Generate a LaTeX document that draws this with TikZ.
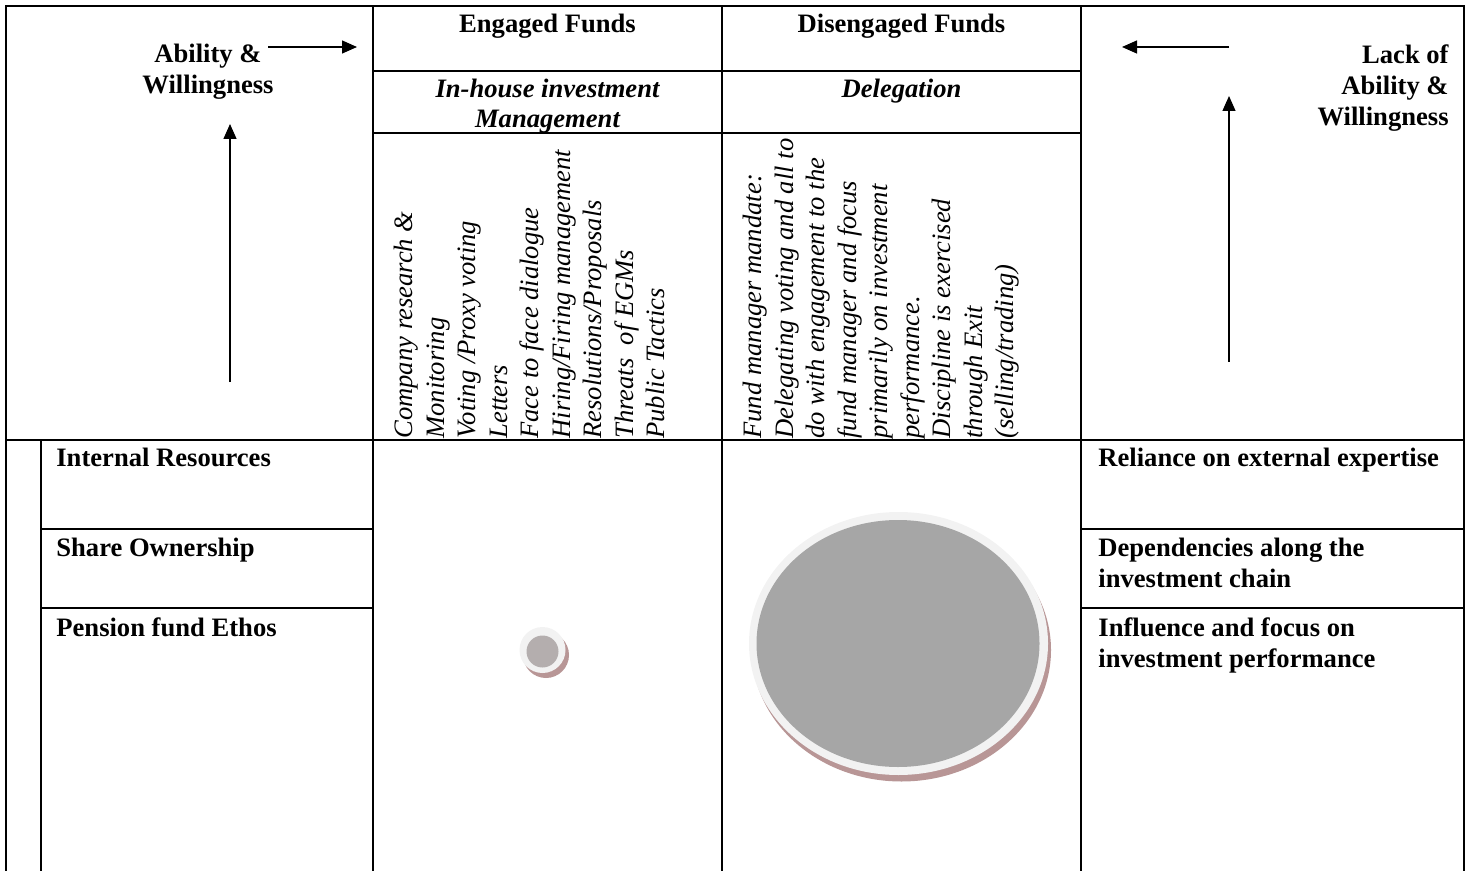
\documentclass[tikz,border=0pt]{standalone}
\usepackage{fontspec}
\setmainfont{Liberation Serif}
\usetikzlibrary{arrows.meta, positioning}

\definecolor{ringgray}{HTML}{F2F2F2}
\definecolor{discgray}{HTML}{A6A6A6}
\definecolor{dotgray}{HTML}{B4AEAE}
\definecolor{shadowrose}{HTML}{B89696}

\begin{document}
\begin{tikzpicture}[x=0.5pt, y=-0.5pt,
    every node/.style={inner sep=0pt},
    cell/.style={line width=0.9pt},
    heading/.style={font=\fontsize{13.3}{15.5}\selectfont\bfseries, align=center, anchor=north},
    subheading/.style={font=\fontsize{13.3}{15}\selectfont\bfseries\itshape, align=center, anchor=north},
    factor/.style={font=\fontsize{13.3}{15.5}\selectfont\bfseries, align=left, anchor=north west},
    vlist/.style={font=\fontsize{13.3}{15.75}\selectfont\itshape, align=left, rotate=90, anchor=north west},
    arrow/.style={-{Triangle[length=7.5pt, width=6.5pt]}, line width=0.65pt}
    ]

    \useasboundingbox (0,0) rectangle (1471,871);

    % Table grid
    \draw[cell] (6,871) -- (6,6) -- (1464,6) -- (1464,871);
    \foreach \x in {373,722,1081}
        \draw[cell] (\x,6) -- (\x,871);
    \foreach \y in {71,133}
        \draw[cell] (373,\y) -- (1081,\y);
    \draw[cell] (6,440) -- (1464,440);
    \draw[cell] (41,440) -- (41,871);
    \foreach \y in {529,608} {
        \draw[cell] (41,\y) -- (373,\y);
        \draw[cell] (1081,\y) -- (1464,\y);
    }

    % Column headings
    \node[heading] (able) at (208,44) {Ability \&\\Willingness};
    \node[heading] (engaged) at (547.5,14) {Engaged Funds};
    \node[heading] (disengaged) at (901.5,14) {Disengaged Funds};
    \node[subheading] (inhouse) at (547.5,79) {In-house investment\\Management};
    \node[subheading] (deleg) at (901.5,79) {Delegation};
    \node[heading, align=right, anchor=north east] (lack) at (1449,44) {Lack of\\Ability \&\\Willingness};

    % Rotated lists
    \node[vlist] (tactics) at (394,439) {Company research \&\\Monitoring\\Voting /Proxy voting\\Letters\\Face to face dialogue\\Hiring/Firing management\\Resolutions/Proposals\\Threats~~of EGMs\\Public Tactics};
    \node[vlist] (mandate) at (743,439) {Fund manager mandate:\\Delegating voting and all to\\do with engagement to the\\fund manager and focus\\primarily on investment\\performance.\\Discipline is exercised\\through Exit\\(selling/trading)};

    % Factors on both sides
    \node[factor] (intres) at (56,448) {Internal Resources};
    \node[factor] (shares) at (56,538) {Share Ownership};
    \node[factor] (ethos) at (56,617) {Pension fund Ethos};
    \node[factor] (reliance) at (1098,448) {Reliance on external expertise};
    \node[factor] (depend) at (1098,538) {Dependencies along the\\investment chain};
    \node[factor] (influence) at (1098,617) {Influence and focus on\\investment performance};

    % Arrows
    \coordinate (ableA) at (268,47);
    \coordinate (ableB) at (357,47);
    \coordinate (ableC) at (230,382);
    \coordinate (ableD) at (230,124);
    \coordinate (lackA) at (1229,47);
    \coordinate (lackB) at (1122,47);
    \coordinate (lackC) at (1229,362);
    \coordinate (lackD) at (1229,96);
    \draw[arrow] (ableA) -- (ableB);
    \draw[arrow] (ableC) -- (ableD);
    \draw[arrow] (lackA) -- (lackB);
    \draw[arrow] (lackC) -- (lackD);

    % Shadowed discs
    \fill[shadowrose] (546,655) circle [radius=23];
    \fill[ringgray] (542.5,650) circle [radius=23];
    \fill[dotgray] (542.5,651.5) circle [radius=16];
    \fill[shadowrose] (901.5,650) ellipse [x radius=149.5, y radius=131.5];
    \fill[ringgray] (898.5,643.5) ellipse [x radius=149.5, y radius=131.5];
    \fill[discgray] (898,643.5) ellipse [x radius=141.5, y radius=123.5];

\end{tikzpicture}
\end{document}
